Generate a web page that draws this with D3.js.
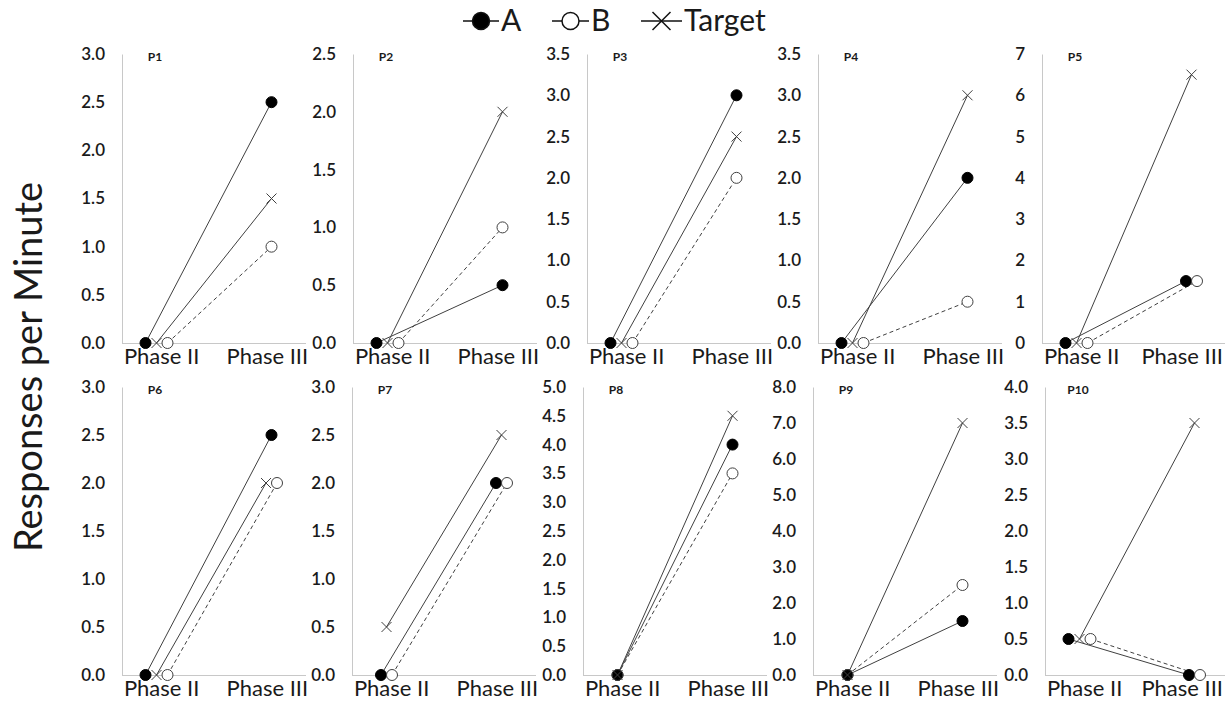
<!DOCTYPE html>
<html>
<head>
<meta charset="utf-8">
<script src="https://cdn.jsdelivr.net/npm/d3@7"></script>
<style>
  body { margin: 0; background: #fff; }
  text { font-family: Lato, "Open Sans", sans-serif; fill: #1a1a1a; }
</style>
</head>
<body>
<div id="chart"></div>
<script>
// Data: [Phase II, Phase III] per participant
const panelNames = ["P1", "P2", "P3", "P4", "P5", "P6", "P7", "P8", "P9", "P10"];
const phases = ["Phase II", "Phase III"];
const seriesA = [[0, 2.5], [0, 0.5], [0, 3.0], [0, 2.0], [0, 1.5], [0, 2.5], [0, 2.0], [0, 4.0], [0, 1.5], [0.5, 0]];
const seriesB = [[0, 1.0], [0, 1.0], [0, 2.0], [0, 0.5], [0, 1.5], [0, 2.0], [0, 2.0], [0, 3.5], [0, 2.5], [0.5, 0]];
const seriesTarget = [[0, 1.5], [0, 2.0], [0, 2.5], [0, 3.0], [0, 6.5], [0, 2.0], [0.5, 2.5], [0, 4.5], [0, 7.0], [0.5, 3.5]];
const yMax = [3.0, 2.5, 3.5, 3.5, 7, 3.0, 3.0, 5.0, 8.0, 4.0];
const yStep = [0.5, 0.5, 0.5, 0.5, 1, 0.5, 0.5, 0.5, 1.0, 0.5];
const yFormat = [".1f", ".1f", ".1f", ".1f", "d", ".1f", ".1f", ".1f", ".1f", ".1f"];
// panels whose tied Phase II points sit on top of each other (not spread out)
const overlapped = ["P8", "P9"];

const width = 1225, height = 708;
const axisLeft = [122, 353, 587, 818, 1042, 122, 352, 583, 813, 1045];
const rowTop = [54, 387], rowBottom = [343, 675];
const plotW = 184;
const ink = "#404040";

const svg = d3.select("#chart").append("svg")
  .attr("width", width)
  .attr("height", height);

// y title
svg.append("text")
  .attr("transform", "translate(42,367) rotate(-90)")
  .attr("text-anchor", "middle")
  .style("font-size", "38px")
  .text("Responses per Minute");

// legend
const legend = svg.append("g").attr("transform", "translate(0,21)");
const legendItems = [
  {name: "A", x: 463, w: 36},
  {name: "B", x: 552, w: 37},
  {name: "Target", x: 641, w: 41}
];
legendItems.forEach(d => {
  legend.append("line")
    .attr("x1", d.x).attr("x2", d.x + d.w)
    .attr("stroke", "#111").attr("stroke-width", 1.5);
  const cx = d.x + d.w / 2;
  if (d.name === "Target") {
    legend.append("path")
      .attr("d", `M${cx - 9},-9L${cx + 9},9M${cx - 9},9L${cx + 9},-9`)
      .attr("stroke", "#111").attr("stroke-width", 1.5);
  } else {
    legend.append("circle")
      .attr("cx", cx).attr("r", 8.5)
      .attr("fill", d.name === "A" ? "#000" : "#fff")
      .attr("stroke", "#111").attr("stroke-width", 1.5);
  }
  legend.append("text")
    .attr("x", d.x + d.w + 2).attr("y", 10)
    .style("font-size", "30px")
    .text(d.name);
});

const xMark = (x, y, s) => `M${x - s},${y - s}L${x + s},${y + s}M${x - s},${y + s}L${x + s},${y - s}`;

panelNames.forEach((name, i) => {
  const row = i < 5 ? 0 : 1;
  const left = axisLeft[i];
  const x = d3.scalePoint().domain(phases).range([left, left + plotW]).padding(0.3);
  // category labels sit a little inward of the points
  const xLab = d3.scalePoint().domain(phases).range([left, left + plotW]).padding(0.37);
  const y = d3.scaleLinear().domain([0, yMax[i]]).range([rowBottom[row], rowTop[row]]);
  const g = svg.append("g");

  // axes
  const ticks = d3.range(0, yMax[i] + yStep[i] / 2, yStep[i]);
  const ya = g.append("g")
    .attr("transform", `translate(${left},0)`)
    .call(d3.axisLeft(y).tickValues(ticks).tickFormat(d3.format(yFormat[i])).tickSize(0).tickPadding(17));
  ya.select(".domain").attr("stroke", "#c8c8c8");
  ya.selectAll("text").style("font-size", "17px").style("font-weight", "600")
    .style("font-family", "Lato, sans-serif").attr("fill", "#1a1a1a");

  const xa = g.append("g")
    .attr("transform", `translate(0,${rowBottom[row]})`)
    .call(d3.axisBottom(xLab).tickSize(0).tickPadding(5).tickSizeOuter(0));
  xa.select(".domain").attr("stroke", "#c8c8c8").attr("d", `M${left},0.5H${left + plotW}`);
  xa.selectAll("text").style("font-size", "22px").style("font-family", "Lato, sans-serif").attr("fill", "#1a1a1a");
  // keep the rightmost labels inside the page
  xa.selectAll(".tick").each(function() {
    const t = d3.select(this).select("text");
    const bb = this.getBBox();
    const tr = this.getCTM();
    const right = tr.e + bb.x + bb.width;
    if (right > width - 2) t.attr("x", width - 2 - right);
  });

  g.append("text")
    .attr("x", left + 33).attr("y", rowTop[row] + 7)
    .attr("text-anchor", "middle")
    .style("font-size", "12px").style("font-weight", "bold")
    .text(name);

  const series = [
    {key: "A", vals: seriesA[i]},
    {key: "T", vals: seriesTarget[i]},
    {key: "B", vals: seriesB[i]}
  ];

  // spread tied points sideways so each marker stays visible
  const px = (s, k) => {
    if (k === 0 && overlapped.includes(name)) return x(phases[k]);
    const ties = series.filter(o => o.vals[k] === s.vals[k]);
    const pos = ties.indexOf(s);
    let off = 0;
    if (ties.length === 3) off = (pos - 1) * 11;
    else if (ties.length === 2) off = pos === 0 ? -5.5 : 5.5;
    return x(phases[k]) + off;
  };

  series.forEach(s => {
    g.append("line")
      .attr("x1", px(s, 0)).attr("y1", y(s.vals[0]))
      .attr("x2", px(s, 1)).attr("y2", y(s.vals[1]))
      .attr("stroke", ink).attr("stroke-width", 1)
      .attr("stroke-dasharray", s.key === "B" ? "4,3" : null);
  });

  series.forEach(s => {
    [0, 1].forEach(k => {
      const cx = px(s, k), cy = y(s.vals[k]);
      if (s.key === "T") {
        g.append("path").attr("d", xMark(cx, cy, 5))
          .attr("stroke", ink).attr("stroke-width", 1).attr("fill", "none");
      } else {
        g.append("circle")
          .attr("cx", cx).attr("cy", cy).attr("r", 5.5)
          .attr("fill", s.key === "A" ? "#000" : "#fff")
          .attr("fill-opacity", s.key === "B" && k === 0 && overlapped.includes(name) ? 0 : 1)
          .attr("stroke", s.key === "A" ? "#000" : ink).attr("stroke-width", 1);
      }
    });
  });
});
</script>
</body>
</html>
